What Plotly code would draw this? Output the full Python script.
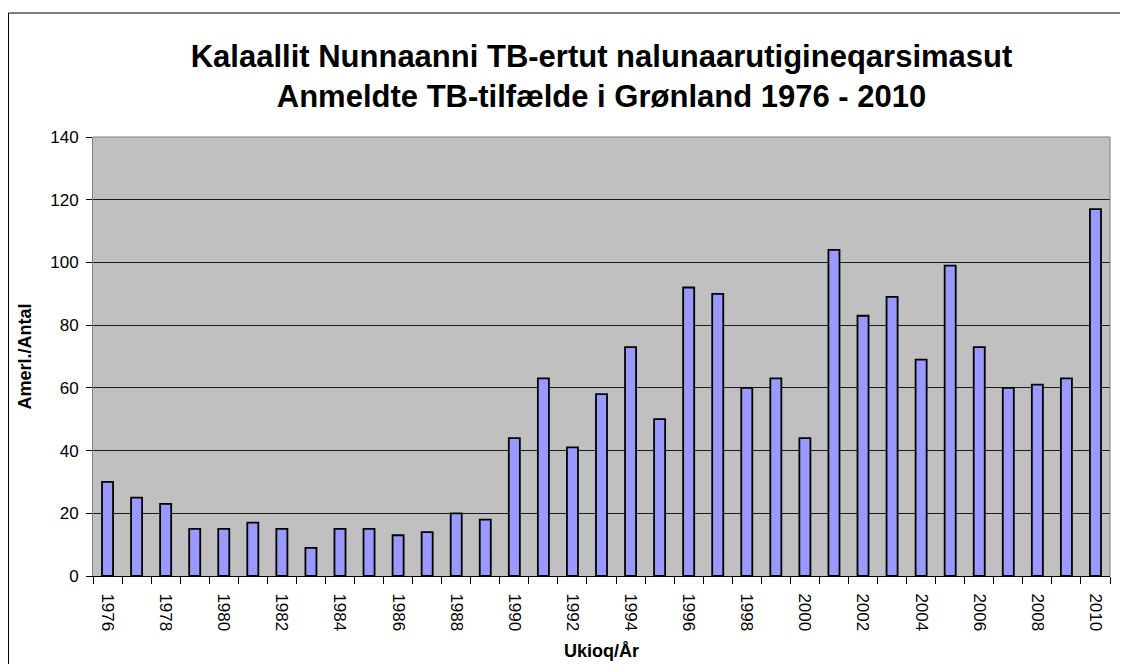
import plotly.graph_objects as go

years = list(range(1976, 2011))
cases = [30, 25, 23, 15, 15, 17, 15, 9, 15, 15, 13, 14, 20, 18,
         44, 63, 41, 58, 73, 50, 92, 90, 60, 63, 44, 104, 83, 89,
         69, 99, 73, 60, 61, 63, 117]
tick_labels = [str(y) if y % 2 == 0 else "" for y in years]
y_ticks = [0, 20, 40, 60, 80, 100, 120, 140]

title_lines = ["Kalaallit Nunnaanni TB-ertut nalunaarutigineqarsimasut",
               "Anmeldte TB-tilfælde i Grønland 1976 - 2010"]
x_title = "Ukioq/År"
y_title = "Amerl./Antal"

FONT = "Liberation Sans, Arial, sans-serif"

# the page body has an 8px margin; keep the figure inside the window
W, H = 1112, 656
L, R, T, B = 85, 10, 129, 88
pw = W - L - R
ph = H - T - B

fig = go.Figure()
fig.add_trace(go.Bar(
    x=[str(y) for y in years],
    y=cases,
    marker=dict(color="#9999FF", line=dict(color="#000000", width=1.8)),
    width=0.38,
    hoverinfo="x+y",
))

fig.update_layout(
    width=W, height=H,
    margin=dict(l=L, r=R, t=T, b=B, pad=0),
    paper_bgcolor="white",
    plot_bgcolor="#C0C0C0",
    showlegend=False,
    font=dict(family=FONT, color="black"),
    title=dict(
        text="<b>" + "<br>".join(title_lines) + "</b>",
        font=dict(family=FONT, size=31, color="black"),
        x=0.5, xref="paper", xanchor="center",
        y=1 - 59 / H, yref="container", yanchor="middle",
    ),
)

fig.update_xaxes(
    type="category",
    tickmode="array",
    tickvals=[str(y) for y in years],
    ticktext=tick_labels,
    tickangle=90,
    tickson="boundaries",
    ticks="outside", ticklen=7, tickcolor="black", tickwidth=1,
    ticklabelstandoff=13,
    tickfont=dict(family=FONT, size=17, color="black"),
    showline=True, linecolor="black", linewidth=1,
    showgrid=False, zeroline=False,
)

fig.update_yaxes(
    range=[0, 140],
    tickmode="array", tickvals=y_ticks,
    ticks="outside", ticklen=6, tickcolor="black", tickwidth=1,
    ticklabelstandoff=4,
    tickfont=dict(family=FONT, size=17, color="black"),
    showline=True, linecolor="#808080", linewidth=1,
    showgrid=True, gridcolor="#1a1a1a", gridwidth=1,
    zeroline=False,
)

# axis titles
fig.add_annotation(text="<b>" + y_title + "</b>", xref="paper", yref="paper",
                   x=(16 - L) / pw, y=0.5, xanchor="center", yanchor="middle",
                   textangle=-90, showarrow=False,
                   font=dict(family=FONT, size=18, color="black"))
fig.add_annotation(text="<b>" + x_title + "</b>", xref="paper", yref="paper",
                   x=0.5, y=-(643 - (T + ph)) / ph, xanchor="center", yanchor="middle",
                   showarrow=False,
                   font=dict(family=FONT, size=18, color="black"))

# plot area border (top and right) in grey
fig.add_shape(type="line", xref="paper", yref="paper", x0=0, x1=1, y0=1, y1=1,
              line=dict(color="#808080", width=1), layer="above")
fig.add_shape(type="line", xref="paper", yref="paper", x0=1, x1=1, y0=0, y1=1,
              line=dict(color="#808080", width=1), layer="above")

# outer chart frame: only its left and top edges are inside the picture
fx0 = (0.5 - L) / pw
fy1 = 1 + (T - 5) / ph
fig.add_shape(type="line", xref="paper", yref="paper",
              x0=fx0, x1=(W - L) / pw, y0=fy1, y1=fy1,
              line=dict(color="black", width=1), layer="below")
fig.add_shape(type="line", xref="paper", yref="paper",
              x0=fx0, x1=fx0, y0=fy1, y1=-B / ph,
              line=dict(color="black", width=1), layer="below")

fig.write_html("out.html")
